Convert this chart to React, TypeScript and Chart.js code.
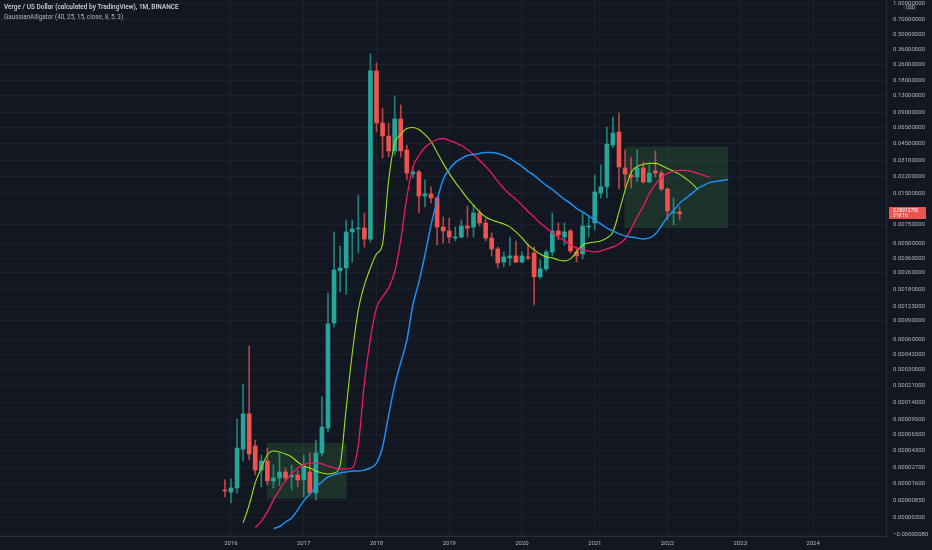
import React, { useEffect, useRef } from 'react';
import { Chart, registerables, LinearScale } from 'chart.js';

Chart.register(...registerables);

// ---------- text ----------
const TITLE = 'Verge / US Dollar (calculated by TradingView), 1M, BINANCE';
const SUBTITLE = 'GaussianAlligator (40, 25, 15, close, 8, 5, 3)';
const CURRENCY = 'USD';
const LAST_PRICE_TEXT = '0.00913782';
const COUNTDOWN_TEXT = '21d 1h';

// ---------- candles (monthly, from 2015-12) ----------
const CANDLE_START = '2015-12';
const OPEN = [
  1.29e-5, 1.19e-5, 1.39e-5, 4.49e-5, 1.08e-4, 4.86e-5, 2.49e-5, 3.24e-5, 1.77e-5, 1.95e-5,
  2.35e-5, 2.02e-5, 2.15e-5, 1.83e-5, 2.35e-5, 1.15e-5, 4.04e-5, 7.67e-5, 8.57e-4, 2.72e-3,
  2.91e-3, 6.43e-3, 6.87e-3, 7.02e-3, 5.5e-3, 0.224, 0.0711, 0.0533, 0.0384, 0.0776,
  0.0392, 0.0231, 0.0242, 0.0142, 0.0149, 0.0136, 0.00718, 0.00657, 0.00563, 0.00575,
  0.00734, 0.00718, 0.00977, 0.00784, 0.00563, 0.00442, 0.00331, 0.00363, 0.00379, 0.00331,
  0.00371, 0.00404, 0.00239, 0.00285, 0.00414, 0.00657, 0.00575, 0.00657, 0.00414, 0.00396,
  0.00718, 0.00784, 0.0152, 0.0174, 0.0437, 0.0583, 0.0264, 0.0226, 0.0216, 0.0264,
  0.0194, 0.0247, 0.0236, 0.0166, 0.00977, 0.0100,
];
const HIGH = [
  1.83e-5, 1.89e-5, 9.55e-5, 2.17e-4, 5.13e-4, 5.68e-5, 3.82e-5, 4.61e-5, 2.89e-5, 4.04e-5,
  2.65e-5, 2.89e-5, 2.49e-5, 3.82e-5, 4.04e-5, 5.68e-5, 1.61e-4, 1.67e-3, 6.43e-3, 4.71e-3,
  8.38e-3, 8.38e-3, 0.0145, 9.77e-3, 0.325, 0.267, 0.0989, 0.0711, 0.129, 0.1057,
  0.0437, 0.027, 0.025, 0.0203, 0.0174, 0.014, 0.00895, 0.00875, 0.00718, 0.00838,
  0.0114, 0.0117, 0.01045, 0.00856, 0.0063, 0.00461, 0.00414, 0.00575, 0.00527, 0.00414,
  0.00494, 0.00461, 0.00347, 0.00433, 0.00977, 0.00784, 0.00784, 0.0068, 0.00461, 0.00977,
  0.00895, 0.0226, 0.0282, 0.0651, 0.0811, 0.0886, 0.0392, 0.0336, 0.0392, 0.0301,
  0.0282, 0.0384, 0.025, 0.017, 0.0136, 0.0112,
];
const LOW = [
  0.98e-5, 0.74e-5, 1.15e-5, 3.24e-5, 3.33e-5, 2.15e-5, 1.44e-5, 1.54e-5, 1.39e-5, 1.49e-5,
  1.83e-5, 1.29e-5, 1.44e-5, 0.98e-5, 1.06e-5, 0.86e-5, 3.72e-5, 6.94e-5, 7.84e-4, 1.71e-3,
  1.63e-3, 3.31e-3, 4.04e-3, 4.61e-3, 5.15e-3, 0.0583, 0.0328, 0.0336, 0.0351, 0.0336,
  0.0203, 0.0212, 0.00977, 0.0112, 0.0122, 0.00482, 0.00504, 0.00504, 0.00527, 0.00563,
  0.00575, 0.00575, 0.00734, 0.00527, 0.00379, 0.00291, 0.00298, 0.00305, 0.00325, 0.00325,
  0.00347, 0.00129, 0.00229, 0.00272, 0.00379, 0.00539, 0.00482, 0.00404, 0.00331, 0.00355,
  0.00575, 0.00673, 0.0136, 0.0136, 0.041, 0.0166, 0.017, 0.017, 0.0194, 0.019,
  0.019, 0.0216, 0.0159, 0.00838, 0.00751, 0.00838,
];
const CLOSE = [
  1.24e-5, 1.39e-5, 4.61e-5, 1.08e-4, 3.93e-5, 2.49e-5, 3.24e-5, 1.77e-5, 1.95e-5, 2.35e-5,
  1.95e-5, 2.15e-5, 1.83e-5, 2.73e-5, 1.15e-5, 4.04e-5, 7.86e-5, 8.39e-4, 2.78e-3, 2.91e-3,
  6.43e-3, 6.87e-3, 7.02e-3, 5.5e-3, 0.224, 0.0711, 0.0533, 0.0384, 0.0776, 0.0384,
  0.0236, 0.0242, 0.0142, 0.0149, 0.0136, 0.00718, 0.00657, 0.00575, 0.00575, 0.00734,
  0.00702, 0.00977, 0.00784, 0.00563, 0.00442, 0.00325, 0.00371, 0.00379, 0.00331, 0.00379,
  0.00363, 0.00239, 0.00285, 0.00414, 0.00657, 0.00602, 0.00644, 0.00423, 0.00379, 0.00734,
  0.00734, 0.01554, 0.0174, 0.0447, 0.057, 0.027, 0.0231, 0.0216, 0.0264, 0.0194,
  0.0236, 0.0236, 0.0166, 0.01022, 0.0100, 0.0096,
];

// ---------- Gaussian alligator lines ----------
const LIPS_START = '2016-03';
const LIPS = [
  1.6e-6, 6.7e-6, 1.66e-5, 2.65e-5, 3.83e-5, 4.26e-5, 4.15e-5, 3.93e-5, 3.62e-5, 3.15e-5,
  2.81e-5, 2.65e-5, 2.42e-5, 2.28e-5, 2.21e-5, 2.28e-5, 2.89e-5, 1.23e-4, 4.33e-4, 1.15e-3,
  1.99e-3, 2.91e-3, 3.95e-3, 4.93e-3, 0.02, 0.0452, 0.0551, 0.063, 0.0644, 0.0616,
  0.0551, 0.0473, 0.0371, 0.0292, 0.0234, 0.0192, 0.0161, 0.0135, 0.0116, 0.01,
  8.96e-3, 8.39e-3, 8.02e-3, 7.68e-3, 7.19e-3, 6.44e-3, 5.64e-3, 4.83e-3, 4.33e-3, 3.96e-3,
  3.71e-3, 3.63e-3, 3.47e-3, 3.4e-3, 3.55e-3, 4.14e-3, 4.83e-3, 5.05e-3, 5.16e-3, 5.28e-3,
  5.64e-3, 6.44e-3, 0.01, 0.0161, 0.0239, 0.0273, 0.0285, 0.0292, 0.0292, 0.0279,
  0.0261, 0.0245, 0.0229, 0.0209, 0.0188, 0.0164,
];
const TEETH_START = '2016-05';
const TEETH = [
  5.7e-7, 2.0e-6, 4.5e-6, 8.6e-6, 1.29e-5, 1.77e-5, 2.21e-5, 2.65e-5, 2.89e-5, 3.06e-5,
  3.06e-5, 2.98e-5, 2.81e-5, 2.65e-5, 2.57e-5, 2.57e-5, 2.65e-5, 5.0e-5, 2.2e-4, 6.07e-4,
  1.2e-3, 1.53e-3, 1.87e-3, 2.66e-3, 5.38e-3, 0.0138, 0.0267, 0.0347, 0.0414, 0.0462,
  0.0494, 0.0505, 0.0483, 0.0462, 0.0433, 0.0396, 0.0355, 0.0311, 0.0273, 0.0234,
  0.0196, 0.0168, 0.0147, 0.0132, 0.0116, 0.0101, 8.96e-3, 7.85e-3, 7.03e-3, 6.3e-3,
  5.76e-3, 5.28e-3, 4.83e-3, 4.52e-3, 4.33e-3, 4.23e-3, 4.14e-3, 4.23e-3, 4.42e-3, 4.62e-3,
  4.94e-3, 5.51e-3, 6.88e-3, 8.96e-3, 0.0113, 0.015, 0.0184, 0.0214, 0.0234, 0.0245,
  0.025, 0.025, 0.0245, 0.0234, 0.0224, 0.0214,
];
const JAW_START = '2016-08';
const JAW = [
  3.6e-7, 7.8e-7, 1.8e-6, 2.8e-6, 5.1e-6, 8.2e-6, 1.1e-5, 1.44e-5, 1.71e-5, 2.02e-5,
  2.15e-5, 2.28e-5, 2.35e-5, 2.42e-5, 2.42e-5, 2.5e-5, 2.65e-5, 3.06e-5, 4.74e-5, 1.04e-4,
  2.1e-4, 3.54e-4, 5.81e-4, 1.28e-3, 2.13e-3, 3.88e-3, 7.51e-3, 0.0129, 0.0205, 0.0256,
  0.0298, 0.0325, 0.0347, 0.0355, 0.0363, 0.0371, 0.0371, 0.0363, 0.0347, 0.0325,
  0.0298, 0.0273, 0.0245, 0.0224, 0.02, 0.018, 0.0164, 0.0147, 0.0132, 0.0121,
  0.0108, 0.01, 9.16e-3, 8.39e-3, 7.68e-3, 7.03e-3, 6.58e-3, 6.16e-3, 5.9e-3, 5.76e-3,
  5.64e-3, 5.51e-3, 5.64e-3, 6.16e-3, 7.35e-3, 8.96e-3, 0.0103, 0.0121, 0.0135, 0.015,
  0.0168, 0.018, 0.0192, 0.0196, 0.02, 0.0205,
];

// ---------- highlighted zones ----------
const ZONE_FROM = ['2016-06.9', '2021-05.9'];
const ZONE_TO = ['2017-08.1', '2022-11.0'];
const ZONE_TOP = [5.26e-5, 0.0423];
const ZONE_BOTTOM = [9.0e-6, 7.03e-3];

// ---------- axes ----------
const YEAR_LABELS = ['2016', '2017', '2018', '2019', '2020', '2021', '2022', '2023', '2024'];
const Y_TICKS = [
  1.0, 0.7, 0.5, 0.36, 0.26, 0.18, 0.13, 0.09, 0.065, 0.045, 0.031, 0.022, 0.015, 0.0075,
  0.005, 0.0036, 0.0026, 0.0018, 0.00125, 0.0009, 0.0006, 0.00042, 0.0003, 0.00021, 0.00014,
  0.000095, 0.000065, 0.000043, 0.000027, 0.000016, 0.0000085, 0.000003, -0.0000008,
];
const Y_OFFSET = 9e-6;
const Y_MAX = 1.0684;
const Y_MIN = -1.067e-6;
const X_MIN = -37.1;
const X_MAX = 109.04;

// ---------- styles ----------
const BG = '#131722';
const GRID = '#1c202b';
const AXIS_LINE = '#2a2e39';
const TEXT = '#b2b5be';
const UP = '#26a69a';
const DOWN = '#ef5350';
const UP_WICK = 'rgba(38,166,154,0.75)';
const DOWN_WICK = 'rgba(239,83,80,0.75)';
const LIPS_COLOR = '#9be21f';
const TEETH_COLOR = '#f0186a';
const JAW_COLOR = '#1e8ff0';
const ZONE_FILL = 'rgba(76,175,80,0.17)';

function monthIndex(s: string): number {
  const [y, m] = s.split('-').map(Number);
  return (y - 2015) * 12 + (m - 12);
}

class OffsetLogScale extends LinearScale {
  static id = 'offsetLog';
  static defaults = LinearScale.defaults;
  _lmin: number = 0;
  _lmax: number = 1;
  buildTicks() {
    return Y_TICKS.map((v) => ({ value: v }));
  }
  configure() {
    super.configure();
    this._lmin = Math.log10(this.min + Y_OFFSET);
    this._lmax = Math.log10(this.max + Y_OFFSET);
  }
  getPixelForValue(value: number) {
    const t = (Math.log10(value + Y_OFFSET) - this._lmin) / (this._lmax - this._lmin);
    return this.getPixelForDecimal(t);
  }
  getValueForPixel(pixel: number) {
    const t = this.getDecimalForPixel(pixel);
    return Math.pow(10, this._lmin + t * (this._lmax - this._lmin)) - Y_OFFSET;
  }
  getPadding() {
    return { left: 0, right: 0, top: 0, bottom: 0 };
  }
}
Chart.register(OffsetLogScale as any);

function fmtPrice(v: number): string {
  return v < 0 ? '\u2212' + Math.abs(v).toFixed(8) : v.toFixed(8);
}

const bgPlugin = {
  id: 'bg',
  beforeDraw(chart: any) {
    const { ctx, width, height } = chart;
    ctx.save();
    ctx.fillStyle = BG;
    ctx.fillRect(0, 0, width, height);
    ctx.restore();
  },
};

const zonePlugin = {
  id: 'zones',
  beforeDatasetsDraw(chart: any) {
    const { ctx, chartArea, scales } = chart;
    ctx.save();
    ctx.beginPath();
    ctx.rect(chartArea.left, chartArea.top, chartArea.right - chartArea.left, chartArea.bottom - chartArea.top);
    ctx.clip();
    ctx.fillStyle = ZONE_FILL;
    for (let k = 0; k < ZONE_FROM.length; k++) {
      const x0 = scales.x.getPixelForValue(monthIndex(ZONE_FROM[k].slice(0, 7)) + Number('0' + ZONE_FROM[k].slice(7)));
      const x1 = scales.x.getPixelForValue(monthIndex(ZONE_TO[k].slice(0, 7)) + Number('0' + ZONE_TO[k].slice(7)));
      const y0 = scales.y.getPixelForValue(ZONE_TOP[k]);
      const y1 = scales.y.getPixelForValue(ZONE_BOTTOM[k]);
      ctx.fillRect(x0, y0, x1 - x0, y1 - y0);
    }
    ctx.restore();
  },
};

const labelPlugin = {
  id: 'priceLabel',
  afterDraw(chart: any) {
    const { ctx, chartArea, scales } = chart;
    const last = CLOSE.length - 1;
    const py = scales.y.getPixelForValue(CLOSE[last]);
    const lastUp = CLOSE[last] >= OPEN[last];
    ctx.save();
    ctx.fillStyle = lastUp ? UP : DOWN;
    const bx = chartArea.right + 3;
    const by = Math.round(py - 7);
    ctx.fillRect(bx, by, 37, 12);
    ctx.fillStyle = '#ffffff';
    ctx.font = '4.8px Roboto';
    ctx.textBaseline = 'middle';
    ctx.textAlign = 'left';
    ctx.fillText(LAST_PRICE_TEXT, bx + 4, by + 3.6);
    ctx.fillText(COUNTDOWN_TEXT, bx + 4, by + 8.8);
    ctx.fillStyle = 'rgba(255,255,255,0.06)';
    ctx.fillRect(chartArea.right + 17, 4.5, 14, 6.5);
    ctx.fillStyle = TEXT;
    ctx.font = '4.6px Roboto';
    ctx.fillText(CURRENCY, chartArea.right + 20, 8);
    ctx.restore();
  },
};

export default function App() {
  const ref = useRef<HTMLCanvasElement | null>(null);

  useEffect(() => {
    if (!ref.current) return;
    const c0 = monthIndex(CANDLE_START);
    const bodies = OPEN.map((o, k) => ({ x: c0 + k, y: [o, CLOSE[k]] }));
    const wicks = OPEN.map((o, k) => ({ x: c0 + k, y: [LOW[k], HIGH[k]] }));
    const colors = OPEN.map((o, k) => (CLOSE[k] >= o ? UP : DOWN));
    const wickColors = OPEN.map((o, k) => (CLOSE[k] >= o ? UP_WICK : DOWN_WICK));
    const line = (start: string, vals: number[]) => vals.map((v, k) => ({ x: monthIndex(start) + k, y: v }));

    const chart = new Chart(ref.current, {
      type: 'bar',
      data: {
        datasets: [
          {
            type: 'line',
            data: line(JAW_START, JAW),
            borderColor: JAW_COLOR,
            borderWidth: 1.5,
            pointRadius: 0,
            cubicInterpolationMode: 'monotone',
            order: 0,
          } as any,
          {
            type: 'line',
            data: line(TEETH_START, TEETH),
            borderColor: TEETH_COLOR,
            borderWidth: 1.3,
            pointRadius: 0,
            cubicInterpolationMode: 'monotone',
            order: 0,
          } as any,
          {
            type: 'line',
            data: line(LIPS_START, LIPS),
            borderColor: LIPS_COLOR,
            borderWidth: 1.1,
            pointRadius: 0,
            cubicInterpolationMode: 'monotone',
            order: 0,
          } as any,
          {
            type: 'bar',
            data: bodies,
            backgroundColor: colors,
            borderWidth: 0,
            barThickness: 4,
            minBarLength: 1,
            grouped: false,
            order: 1,
          } as any,
          {
            type: 'bar',
            data: wicks,
            backgroundColor: wickColors,
            borderWidth: 0,
            barThickness: 1,
            grouped: false,
            order: 2,
          } as any,
        ],
      },
      options: {
        responsive: false,
        animation: false,
        events: [],
        layout: { padding: 0 },
        plugins: {
          legend: { display: false },
          tooltip: { enabled: false },
          title: { display: false },
        },
        scales: {
          x: {
            type: 'linear',
            position: 'bottom',
            min: X_MIN,
            max: X_MAX,
            offset: false,
            grid: { color: GRID, drawTicks: false, offset: false },
            border: { color: AXIS_LINE },
            afterBuildTicks: (axis: any) => {
              axis.ticks = YEAR_LABELS.map((l) => ({ value: monthIndex(l + '-01') }));
            },
            ticks: {
              autoSkip: false,
              maxRotation: 0,
              padding: 4,
              color: TEXT,
              font: { family: 'Roboto', size: 6 },
              callback: (_v: any, idx: number) => YEAR_LABELS[idx],
            },
            afterFit: (s: any) => {
              s.height = 14;
            },
          },
          y: {
            type: 'offsetLog',
            position: 'right',
            min: Y_MIN,
            max: Y_MAX,
            grid: { color: GRID, drawTicks: false },
            border: { color: AXIS_LINE },
            ticks: {
              autoSkip: false,
              padding: 7,
              color: TEXT,
              font: { family: 'Roboto', size: 6 },
              callback: (v: any) => fmtPrice(Number(v)),
            },
            afterFit: (s: any) => {
              s.width = 46;
            },
          } as any,
        },
      } as any,
      plugins: [bgPlugin, zonePlugin, labelPlugin],
    });
    return () => chart.destroy();
  }, []);

  return (
    <div style={{ position: 'fixed', left: 0, top: 0, width: 932, height: 550, background: BG, overflow: 'hidden' }}>
      <canvas ref={ref} width={932} height={550} style={{ display: 'block' }} />
      <div
        style={{
          position: 'absolute',
          left: 4,
          top: 2,
          fontFamily: 'Roboto',
          lineHeight: '10px',
          color: '#d1d4dc',
          pointerEvents: 'none',
          whiteSpace: 'nowrap',
        }}
      >
        <div style={{ fontWeight: 500, fontSize: 6.5 }}>{TITLE}</div>
        <div style={{ color: TEXT, fontSize: 6.3 }}>{SUBTITLE}</div>
      </div>
    </div>
  );
}
